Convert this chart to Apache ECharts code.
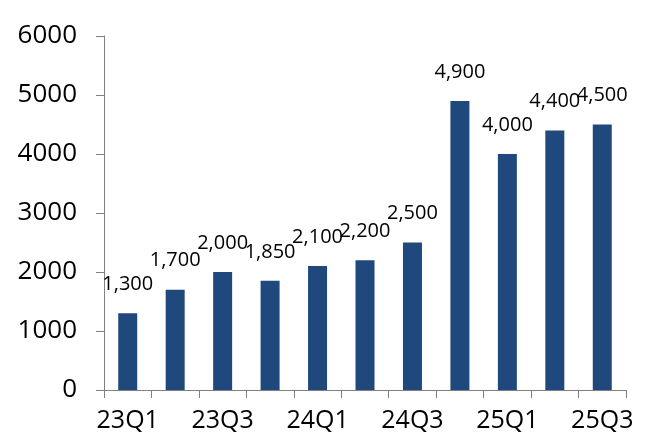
<!DOCTYPE html>
<html>
<head>
<meta charset="utf-8">
<script src="https://cdn.jsdelivr.net/npm/echarts@6/dist/echarts.min.js"></script>
<style>
  html, body { margin: 0; padding: 0; background: #fff; }
  #main { width: 662px; height: 443px; }
</style>
</head>
<body>
<div id="main"></div>
<script>
// 季度分类
var quarters = ["23Q1", "23Q2", "23Q3", "23Q4", "24Q1", "24Q2", "24Q3", "24Q4", "25Q1", "25Q2", "25Q3"];
// 每季度数值
var values = [1300, 1700, 2000, 1850, 2100, 2200, 2500, 4900, 4000, 4400, 4500];
// y轴刻度
var yTicks = [0, 1000, 2000, 3000, 4000, 5000, 6000];

var myChart = echarts.init(document.getElementById("main"));

var option = {
  animation: false,
  textStyle: { fontFamily: "Open Sans" },
  grid: { left: 104, right: 36, top: 36, bottom: 53 },
  xAxis: {
    type: "category",
    data: quarters,
    boundaryGap: true,
    axisLine: { lineStyle: { color: "#808080", width: 1 } },
    axisTick: { show: true, length: 8, alignWithLabel: false, interval: 0, lineStyle: { color: "#808080" } },
    axisLabel: { interval: 1, margin: 18, fontSize: 25, color: "#000" },
  },
  yAxis: {
    type: "value",
    min: yTicks[0],
    max: yTicks[yTicks.length - 1],
    interval: 1000,
    splitLine: { show: false },
    axisLine: { show: true, lineStyle: { color: "#808080", width: 1 } },
    axisTick: { show: true, length: 8, lineStyle: { color: "#808080" } },
    axisLabel: {
      margin: 27,
      fontSize: 26,
      color: "#000",
      formatter: function (v) {
        return String(v); // 不加千分位
      },
    },
  },
  series: [
    {
      type: "bar",
      data: values,
      barWidth: 19,
      itemStyle: { color: "#1f497d" },
      label: {
        show: true,
        position: "top",
        distance: 19,
        fontSize: 20,
        color: "#000",
        formatter: function (p) {
          return p.value.toLocaleString("en-US");
        },
      },
    },
  ],
};

myChart.setOption(option);
</script>
</body>
</html>
